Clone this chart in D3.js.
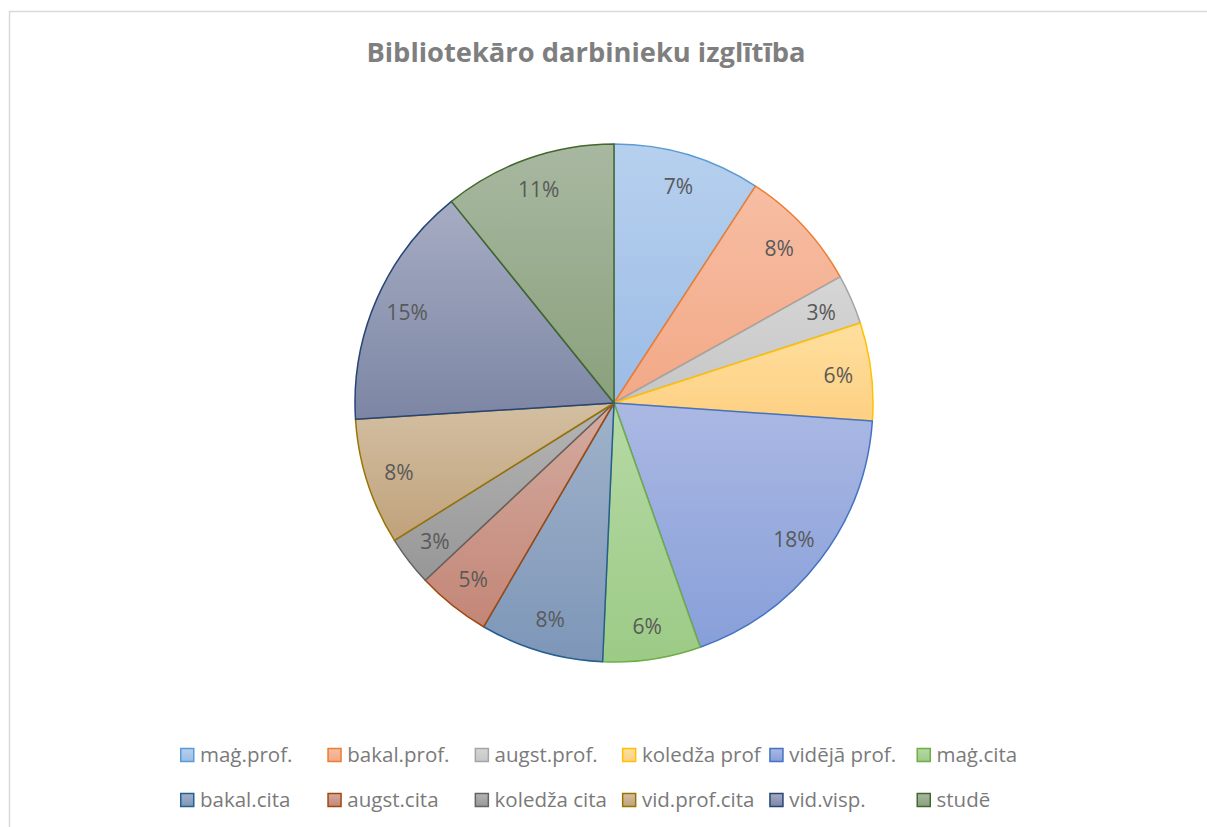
<!DOCTYPE html>
<html>
<head>
<meta charset="utf-8">
<script src="https://cdn.jsdelivr.net/npm/d3@7"></script>
<style>
  body { margin: 0; background: #fff; }
  svg { display: block; }
</style>
</head>
<body>
<div id="chart"></div>
<script>
// categories, in drawing order (clockwise from 12 o'clock)
var categories = ["maġ.prof.", "bakal.prof.", "augst.prof.", "koledža prof", "vidējā prof.", "maġ.cita",
                  "bakal.cita", "augst.cita", "koledža cita", "vid.prof.cita", "vid.visp.", "studē"];
// slice sizes (share of the whole, %)
var values = [9.2, 7.7, 3.1, 6.1, 18.5, 6.1, 7.7, 4.6, 3.1, 7.9, 15.2, 10.8];
// data labels as printed on the chart
var labels = ["7%", "8%", "3%", "6%", "18%", "6%", "8%", "5%", "3%", "8%", "15%", "11%"];

// outline colours (office palette) and the washed gradient fills
var colors = ["#5B9BD5", "#ED7D31", "#A5A5A5", "#FFC000", "#4472C4", "#70AD47",
              "#255E91", "#9E480E", "#636363", "#997300", "#264478", "#43682B"];
var fillTop = ["#b6d0ee", "#f7bda3", "#d6d6d6", "#ffdf9e", "#abb8e3", "#b6d9a5",
               "#a0b2ca", "#d4aba1", "#b5b5b5", "#d3bfa2", "#a6acc3", "#a8b8a1"];
var fillBottom = ["#9cbce6", "#f2a987", "#c6c6c6", "#fdd083", "#879fd9", "#9ccb86",
                  "#7d96b8", "#c38676", "#979797", "#c0a27b", "#7c86a4", "#8aa17c"];

var title = "Bibliotekāro darbinieku izglītība";

var W = 1207, H = 827;
var cx = 614, cy = 403, radius = 259;

var svg = d3.select("#chart").append("svg")
    .attr("width", W)
    .attr("height", H);

// chart area border
svg.append("rect")
    .attr("x", 9.5).attr("y", 11.5)
    .attr("width", 1210).attr("height", 830)
    .attr("fill", "#fff")
    .attr("stroke", "#d9d9d9")
    .attr("stroke-width", 1.5);

var defs = svg.append("defs");

// light-to-darker vertical gradient, per shape
colors.forEach(function(c, i) {
    var g = defs.append("linearGradient")
        .attr("id", "grad" + i)
        .attr("x1", 0).attr("x2", 0).attr("y1", 0).attr("y2", 1);
    g.append("stop").attr("offset", "0%").attr("stop-color", fillTop[i]);
    g.append("stop").attr("offset", "100%").attr("stop-color", fillBottom[i]);
});

svg.append("text")
    .attr("x", 586)
    .attr("y", 62)
    .attr("text-anchor", "middle")
    .attr("font-family", "Open Sans")
    .attr("font-weight", "bold")
    .attr("font-size", "27.3px")
    .attr("fill", "#7f7f7f")
    .text(title);

var pie = d3.pie().sort(null).value(function(d) { return d; });
var arcs = pie(values);

var arc = d3.arc().innerRadius(0).outerRadius(radius);
var labelArc = d3.arc().innerRadius(226).outerRadius(226);

var g = svg.append("g")
    .attr("transform", "translate(" + cx + "," + cy + ")");

g.selectAll(".slice")
    .data(arcs)
    .enter()
    .append("path")
    .attr("class", "slice")
    .attr("d", arc)
    .attr("fill", function(d, i) { return "url(#grad" + i + ")"; })
    .attr("stroke", function(d, i) { return colors[i]; })
    .attr("stroke-width", 1.5)
    .attr("stroke-linejoin", "round");

g.selectAll(".lbl")
    .data(arcs)
    .enter()
    .append("text")
    .attr("class", "lbl")
    .attr("transform", function(d) { return "translate(" + labelArc.centroid(d) + ")"; })
    .attr("text-anchor", "middle")
    .attr("dy", "0.36em")
    .attr("font-family", "Open Sans")
    .attr("font-size", "21px")
    .attr("fill", "#595959")
    .text(function(d, i) { return labels[i]; });

// legend: two rows of six
var legX = d3.scaleBand().domain(d3.range(6)).range([180, 180 + 6 * 147.3]);
var legY = d3.scalePoint().domain([0, 1]).range([755, 800]);

var leg = svg.selectAll(".leg")
    .data(categories)
    .enter()
    .append("g")
    .attr("class", "leg")
    .attr("transform", function(d, i) {
        return "translate(" + legX(i % 6) + "," + legY(Math.floor(i / 6)) + ")";
    });

leg.append("rect")
    .attr("x", 0.75).attr("y", -6.5)
    .attr("width", 13).attr("height", 13)
    .attr("fill", function(d, i) { return "url(#grad" + i + ")"; })
    .attr("stroke", function(d, i) { return colors[i]; })
    .attr("stroke-width", 1.5);

leg.append("text")
    .attr("x", 20)
    .attr("dy", "0.36em")
    .attr("font-family", "Open Sans")
    .attr("font-size", "20.5px")
    .attr("fill", "#7a7a7a")
    .text(function(d) { return d; });
</script>
</body>
</html>
